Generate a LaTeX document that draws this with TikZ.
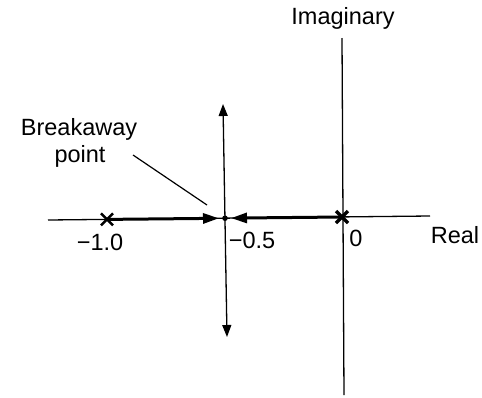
\documentclass[tikz,border=0pt]{standalone}
\usepackage{fontspec}
\setmainfont{Liberation Sans}
\usetikzlibrary{arrows.meta,calc}
\begin{document}
\begin{tikzpicture}[x=1pt,y=-1pt,
  axis/.style={line width=1.3pt},
  locus/.style={line width=3pt,-{Triangle[length=16pt,width=10pt]}},
  vtip/.style={line width=1.3pt,{Triangle[length=12pt,width=9pt]}-{Triangle[length=12pt,width=9pt]}},
  lbl/.style={font=\fontsize{23.5}{27}\selectfont,inner sep=0pt},
  pole/.style={line width=2.6pt}]
\useasboundingbox (0,0) rectangle (482,397);
% axes
\coordinate (rl) at (48,220);
\coordinate (rr) at (430,216);
\draw[axis] (rl) -- (rr);
\coordinate (it) at (342,38);
\coordinate (ib) at (344,395);
\draw[axis] (it) -- (ib);
% points
\coordinate (p1) at (107,219.4);
\coordinate (bp) at (225,218.2);
\coordinate (p0) at (342,217);
% locus arrows
\coordinate (bl) at (219,218.3);
\coordinate (br) at (231,218.1);
\draw[locus] (p1) -- (bl);
\draw[locus] (p0) -- (br);
\fill (bp) circle (2.8pt);
% poles
\draw[pole] ($(p1)+(-6,-6)$) -- ($(p1)+(6,6)$) ($(p1)+(-6,6)$) -- ($(p1)+(6,-6)$);
\draw[pole,line width=3.2pt] ($(p0)+(-6,-6)$) -- ($(p0)+(6,6)$) ($(p0)+(-6,6)$) -- ($(p0)+(6,-6)$);
% vertical branch
\coordinate (vt) at (223,104);
\coordinate (vb) at (227,337);
\draw[vtip] (vt) -- (vb);
% leader
\coordinate (la) at (133,155);
\coordinate (lb) at (207,205);
\draw[line width=1.2pt] (la) -- (lb);
% labels
\node[lbl] (im) at (343,18) {Imaginary};
\node[lbl] (bk) at (79,129) {Breakaway};
\node[lbl] (pt) at (80,156) {point};
\node[lbl] (re) at (455,235) {Real};
\node[lbl] (z) at (356,238) {0};
\node[lbl] (h) at (252,240) {−0.5};
\node[lbl] (o) at (100,242) {−1.0};
\end{tikzpicture}
\end{document}
